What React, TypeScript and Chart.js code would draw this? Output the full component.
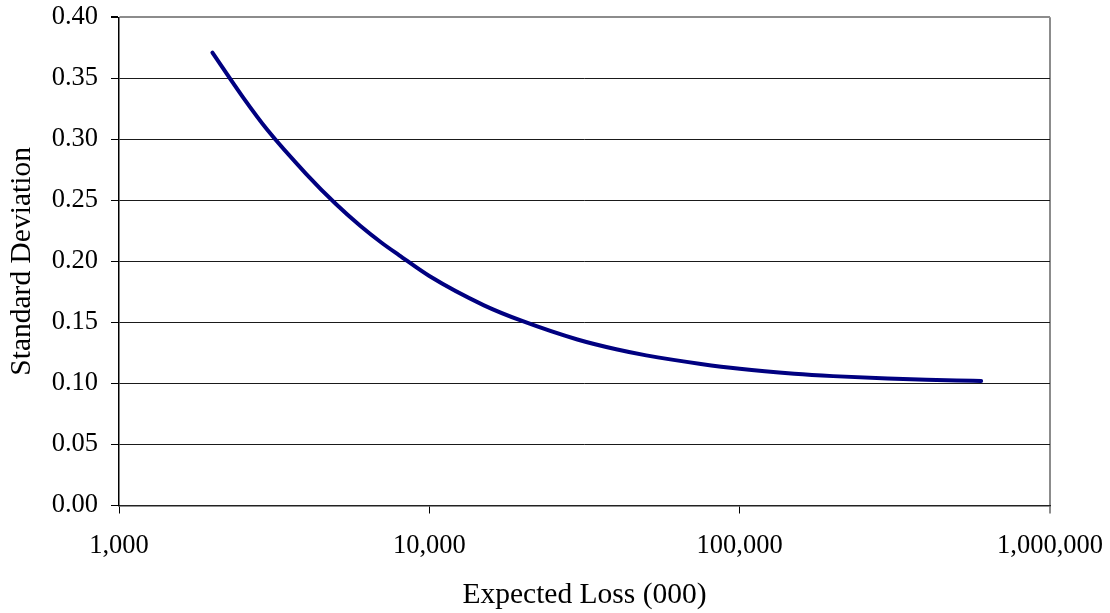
import React, { useEffect, useRef } from "react";
import { Chart, registerables } from "chart.js";

Chart.register(...registerables);

// Expected loss (000) – x values
const expectedLoss = [
  2000, 2500, 3000, 4000, 5000, 6000, 7000, 8000, 10000, 15000, 20000,
  30000, 40000, 50000, 75000, 100000, 150000, 200000, 300000, 400000,
  500000, 600000,
];
// Standard deviation – y values
const stdDev = [
  0.371, 0.335, 0.308, 0.272, 0.247, 0.229, 0.2155, 0.205, 0.188, 0.164,
  0.151, 0.136, 0.128, 0.123, 0.116, 0.112, 0.108, 0.106, 0.104, 0.103,
  0.1024, 0.102,
];
const xTicks = [1000, 10000, 100000, 1000000];
const yTicks = [0, 0.05, 0.1, 0.15, 0.2, 0.25, 0.3, 0.35, 0.4];

const FONT = "'Liberation Serif', 'Times New Roman', serif";

export default function App() {
  const ref = useRef<HTMLCanvasElement>(null);

  useEffect(() => {
    if (!ref.current) return;
    const points = expectedLoss.map((x, i) => ({ x, y: stdDev[i] }));
    const chart = new Chart(ref.current, {
      type: "line",
      data: {
        datasets: [
          {
            data: points,
            borderColor: "#000080",
            borderWidth: 4,
            borderCapStyle: "round",
            borderJoinStyle: "round",
            pointRadius: 0,
            fill: false,
            cubicInterpolationMode: "monotone",
          },
        ],
      },
      options: {
        animation: false,
        responsive: false,
        devicePixelRatio: 1,
        layout: { padding: { left: 0, top: 17.3, right: 60, bottom: 0 } },
        plugins: {
          legend: { display: false },
          tooltip: { enabled: false },
        },
        scales: {
          x: {
            type: "logarithmic",
            min: 1000,
            max: 1000000,
            afterBuildTicks: (scale: any) => {
              scale.ticks = xTicks.map((v) => ({ value: v, major: true }));
            },
            afterFit: (scale: any) => {
              scale.height = 107.5;
              scale.paddingLeft = 0;
              scale.paddingRight = 0;
            },
            ticks: {
              color: "#000",
              font: { family: FONT, size: 26.5 },
              padding: 17,
              maxRotation: 0,
              autoSkip: false,
              callback: (v: any) => Number(v).toLocaleString("en-US"),
            },
            grid: {
              drawOnChartArea: true,
              drawTicks: true,
              tickLength: 8,
              color: (ctx: any) =>
                ctx.index === xTicks.length - 1 ? "#8c8c8c" : "rgba(0,0,0,0)",
              tickColor: (ctx: any) =>
                ctx.index === xTicks.length - 1 ? "#8c8c8c" : "#000",
              lineWidth: (ctx: any) => (ctx.index === xTicks.length - 1 ? 2 : 1),
            },
            border: { display: true, color: "#222", width: 1.5 },
            title: {
              display: true,
              text: "Expected Loss (000)",
              color: "#000",
              font: { family: FONT, size: 29.5 },
              padding: { top: 0, bottom: 0 },
            },
          },
          y: {
            min: 0,
            max: 0.4,
            afterBuildTicks: (scale: any) => {
              scale.ticks = yTicks.map((v) => ({ value: v }));
            },
            afterFit: (scale: any) => {
              scale.width = 119;
              scale.paddingTop = 0;
              scale.paddingBottom = 0;
            },
            ticks: {
              color: "#000",
              font: { family: FONT, size: 26.5 },
              padding: 13,
              callback: (v: any) => Number(v).toFixed(2),
            },
            grid: {
              drawTicks: true,
              tickLength: 8,
              color: (ctx: any) =>
                ctx.index === yTicks.length - 1 ? "#8c8c8c" : "#1a1a1a",
              tickColor: "#000",
              lineWidth: (ctx: any) => (ctx.index === yTicks.length - 1 ? 2 : 1),
            },
            border: { display: true, color: "#000", width: 1.5 },
            title: {
              display: true,
              text: "Standard Deviation",
              color: "#000",
              font: { family: FONT, size: 29.5 },
              padding: { top: 4.5, bottom: 0 },
            },
          },
        },
      },
    });
    return () => chart.destroy();
  }, []);

  return (
    <div
      style={{
        position: "fixed",
        left: 0,
        top: 0,
        width: 1110,
        height: 613,
        background: "#fff",
      }}
    >
      <canvas ref={ref} width={1110} height={613} />
    </div>
  );
}
